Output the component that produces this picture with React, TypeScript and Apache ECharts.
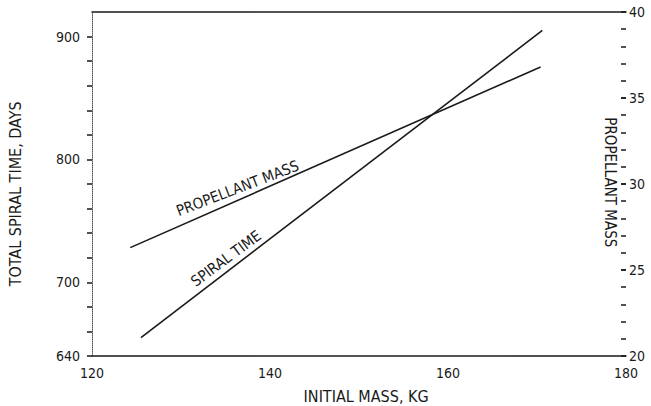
import React, { useEffect, useRef } from "react";
import * as echarts from "echarts";

const massTicks = [120, 140, 160, 180];
const timeLabels = [640, 700, 800, 900];
const timeTicks = [640, 660, 680, 700, 720, 740, 760, 780, 800, 820, 840, 860, 880, 900];
const propLabels = [20, 25, 30, 35, 40];
const propTicks = [21, 22, 23, 24, 25, 26, 27, 28, 29, 30, 31, 32, 33, 34, 35, 36, 37, 38, 39];

const spiralMass = [125.5, 170.6];
const spiralTime = [655, 905];
const propMass = [124.3, 170.4];
const propValue = [26.3, 36.8];

const FONT = "'Liberation Sans Narrow', 'DejaVu Sans Condensed', sans-serif";
const INK = "#1a1a1a";

function lerp(xs: number[], ys: number[], x: number) {
  const t = (x - xs[0]) / (xs[1] - xs[0]);
  return ys[0] + t * (ys[1] - ys[0]);
}

export default function App() {
  const ref = useRef<HTMLDivElement>(null);
  useEffect(() => {
    if (!ref.current) return;
    const chart = echarts.init(ref.current, null, { renderer: "svg" });
    chart.setOption({
      animation: false,
      backgroundColor: "#ffffff",
      textStyle: { fontFamily: FONT, color: INK },
      grid: { left: 92, right: 25, top: 12, bottom: 50, containLabel: false, outerBoundsMode: "none" },
      xAxis: [
        {
          type: "value",
          min: 120,
          max: 180,
          interval: 20,
          position: "bottom",
          axisLine: { show: true, lineStyle: { color: INK, width: 1.5 } },
          axisTick: { show: false },
          axisLabel: {
            fontFamily: FONT,
            fontSize: 14,
            color: INK,
            margin: 10,
            customValues: massTicks,
          },
          splitLine: { show: false },
        },
        {
          type: "value",
          min: 120,
          max: 180,
          position: "top",
          axisLine: { show: true, lineStyle: { color: INK, width: 1.5 } },
          axisTick: { show: false },
          axisLabel: { show: false },
          splitLine: { show: false },
        },
      ],
      yAxis: [
        {
          type: "value",
          min: 640,
          max: 920,
          position: "left",
          axisLine: { show: true, lineStyle: { color: "#555", width: 1, type: "dotted" } },
          axisTick: {
            show: true,
            length: 5,
            customValues: timeTicks,
            lineStyle: { color: INK, width: 1.5 },
          },
          axisLabel: {
            fontFamily: FONT,
            fontSize: 14,
            color: INK,
            margin: 12,
            customValues: timeLabels,
          },
          splitLine: { show: false },
        },
        {
          type: "value",
          min: 20,
          max: 40,
          position: "right",
          axisLine: { show: false },
          axisTick: {
            show: true,
            inside: true,
            length: 5,
            customValues: propTicks.concat(propLabels),
            lineStyle: { color: INK, width: 1.5 },
          },
          axisLabel: {
            fontFamily: FONT,
            fontSize: 14,
            color: INK,
            margin: 3,
            customValues: propLabels,
          },
          splitLine: { show: false },
        },
      ],
      series: [
        {
          name: "SPIRAL TIME",
          type: "line",
          xAxisIndex: 0,
          yAxisIndex: 0,
          data: spiralMass.map((m, i) => [m, spiralTime[i]]),
          showSymbol: false,
          lineStyle: { color: INK, width: 1.6 },
        },
        {
          name: "PROPELLANT MASS",
          type: "line",
          xAxisIndex: 0,
          yAxisIndex: 1,
          data: propMass.map((m, i) => [m, propValue[i]]),
          showSymbol: false,
          lineStyle: { color: INK, width: 1.6 },
        },
      ],
    });

    const pm = 136.8;
    const pPt = chart.convertToPixel({ xAxisIndex: 0, yAxisIndex: 1 }, [pm, lerp(propMass, propValue, pm)]) as number[];
    const sm = 135.8;
    const sPt = chart.convertToPixel({ xAxisIndex: 0, yAxisIndex: 0 }, [sm, lerp(spiralMass, spiralTime, sm)]) as number[];
    const rPt = chart.convertToPixel({ xAxisIndex: 0, yAxisIndex: 1 }, [180, 30.1]) as number[];
    const lPt = chart.convertToPixel({ xAxisIndex: 0, yAxisIndex: 0 }, [120, 772]) as number[];
    const bPt = chart.convertToPixel({ xAxisIndex: 0, yAxisIndex: 0 }, [150.8, 640]) as number[];
    const pAng = (21 * Math.PI) / 180;
    const sAng = (36.5 * Math.PI) / 180;
    const mk = (x: number, y: number, rot: number, text: string, size: number) => ({
      type: "text",
      x,
      y,
      rotation: rot,
      style: { text, fontFamily: FONT, fontSize: size, fill: INK, align: "center", verticalAlign: "middle" },
    });
    chart.setOption({
      graphic: [
        mk(pPt[0] - 11 * Math.sin(pAng), pPt[1] - 11 * Math.cos(pAng), pAng, "PROPELLANT MASS", 15),
        mk(sPt[0] - 11 * Math.sin(sAng), sPt[1] - 11 * Math.cos(sAng), sAng, "SPIRAL TIME", 15),
        mk(rPt[0] - 16, rPt[1], -Math.PI / 2, "PROPELLANT MASS", 15),
        mk(lPt[0] - 77, lPt[1], Math.PI / 2, "TOTAL SPIRAL TIME, DAYS", 16),
        mk(bPt[0], bPt[1] + 40, 0, "INITIAL MASS, KG", 16),
      ],
    });

    return () => chart.dispose();
  }, []);
  return <div ref={ref} style={{ width: 651, height: 406, position: "absolute", left: 0, top: 0 }} />;
}
